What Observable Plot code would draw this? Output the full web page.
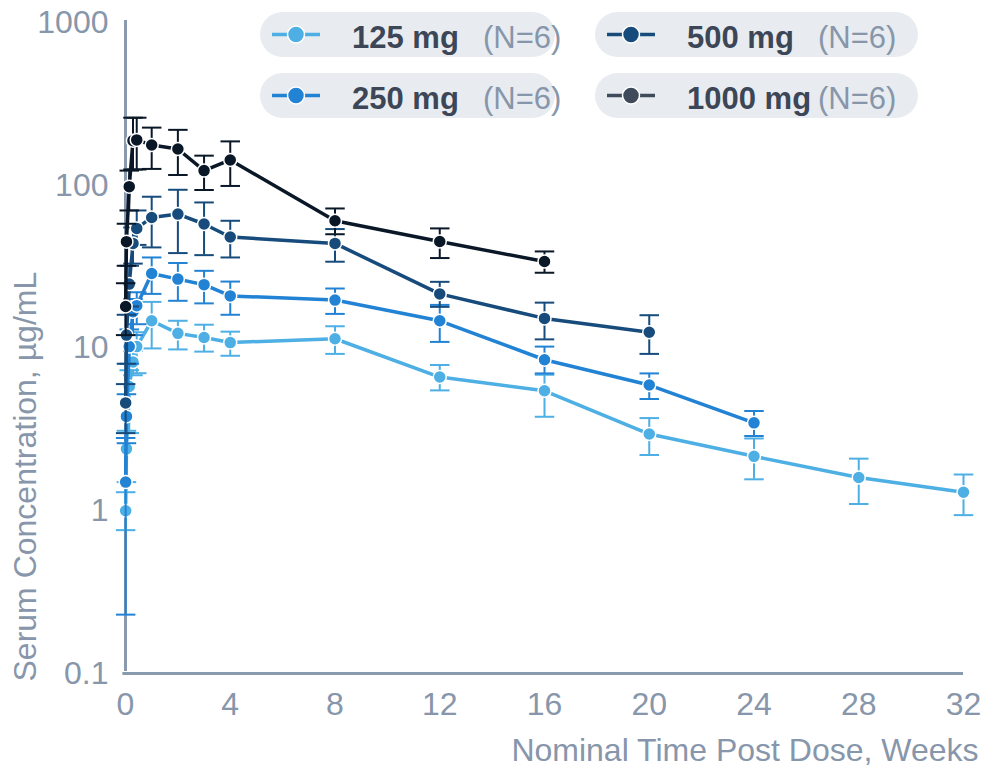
<!DOCTYPE html>
<html>
<head>
<meta charset="utf-8">
<script src="https://cdn.jsdelivr.net/npm/d3@7"></script>
<script src="https://cdn.jsdelivr.net/npm/@observablehq/plot@0.6"></script>
<style>
  body { margin: 0; background: #fff; font-family: "Liberation Sans", Arial, sans-serif; }
  #wrap { position: relative; width: 983px; height: 770px; }
  .pill { position: absolute; height: 45px; border-radius: 23px; background: #E8ECF0; }
  .pill .sym { position: absolute; left: 12px; top: 0; width: 48px; height: 45px; }
  .pill .name { position: absolute; left: 92px; top: 3px; line-height: 45px; font-size: 31px; font-weight: bold; color: #3C4657; white-space: nowrap; }
  .pill .n { position: absolute; left: 223px; top: 3px; line-height: 45px; font-size: 31px; color: #8796AA; white-space: nowrap; }
</style>
</head>
<body>
<div id="wrap"></div>
<script>
// ---- data ----
const doses = ["125 mg", "250 mg", "500 mg", "1000 mg"];
const nLabels = ["(N=6)", "(N=6)", "(N=6)", "(N=6)"];
const lineColors = ["#4DAFE4", "#2282D4", "#164B7C", "#0A1727"];
const legendColors = ["#4DAFE4", "#2282D4", "#164B7C", "#3F4A5A"];
const times = [0.006, 0.036, 0.143, 0.286, 0.429, 1, 2, 3, 4, 8, 12, 16, 20, 24, 28, 32];

const mean125 = [1.0, 2.4, 5.8, 8.2, 10.2, 14.7, 12.3, 11.6, 10.8, 11.4, 6.63, 5.46, 2.96, 2.16, 1.6, 1.3];
const lo125   = [0.76, 1.5, 3.0, 6.8, 7.0, 9.94, 9.8, 9.5, 8.96, 9.2, 5.49, 3.78, 2.2, 1.56, 1.1, 0.94];
const hi125   = [1.3, 3.1, 7.3, 9.6, 12.5, 19.2, 14.7, 13.9, 12.6, 13.6, 7.86, 6.85, 3.71, 2.78, 2.09, 1.67];

const mean250 = [1.5, 3.8, 10.2, 16.7, 18.2, 28.7, 26.5, 24.5, 20.9, 19.7, 14.7, 8.47, 5.92, 3.47];
const lo250   = [0.23, 2.6, 8.0, 12.0, 14.0, 21.5, 19.5, 18.8, 16.0, 16.2, 10.9, 6.98, 4.86, 2.88];
const hi250   = [2.8, 5.2, 13.0, 20.0, 22.0, 36.0, 33.3, 29.8, 25.6, 23.2, 18.4, 10.2, 6.98, 4.1];

const mean500 = [4.6, 12, 24.7, 43.9, 54.3, 63.4, 66.5, 57.8, 48.1, 43.9, 21.5, 15.2, 12.5];
const lo500   = [3.0, 8.0, 18.0, 33.0, 43.0, 41.5, 38.3, 37.2, 36.0, 33.9, 17.9, 11.3, 9.2];
const hi500   = [6.0, 16.0, 32.0, 55.0, 70.0, 85.0, 93.8, 78.4, 60.5, 53.8, 25.5, 19.0, 15.9];

const mean1000 = [18, 45, 98, 188, 190, 176.6, 167, 123, 143, 60.5, 45.1, 34];
const lo1000   = [12, 32, 70, 125, 125, 126, 115.6, 93.5, 99, 50, 35.7, 29];
const hi1000   = [25, 58, 123, 260, 260, 226, 219, 152, 186, 72, 54.3, 39.2];

const yTicks = [0.1, 1, 10, 100, 1000];
const xTicks = [0, 4, 8, 12, 16, 20, 24, 28, 32];
const xLabel = "Nominal Time Post Dose, Weeks";
const yLabel = "Serum Concentration, µg/mL";

// ---- build table ----
const series = [
  [mean125, lo125, hi125],
  [mean250, lo250, hi250],
  [mean500, lo500, hi500],
  [mean1000, lo1000, hi1000]
];
const rows = [];
series.forEach(([m, lo, hi], s) => {
  m.forEach((v, i) => rows.push({dose: doses[s], t: times[i], v, lo: lo[i], hi: hi[i]}));
});

const axisColor = "#8A9AAE";
const textColor = "#8796AA";
const capSymbol = { draw(ctx, size) { const w = Math.sqrt(size); ctx.moveTo(-w, 0); ctx.lineTo(w, 0); } };

const marks = [
  Plot.ruleX([0], {stroke: axisColor, strokeWidth: 3, y1: 0.1, y2: 1000, dy: -2}),
  Plot.ruleY([0.1], {stroke: axisColor, strokeWidth: 3, x1: -0.1, x2: 32})
];
doses.forEach((d, s) => {
  const data = rows.filter(r => r.dose === d);
  const c = lineColors[s];
  marks.push(
    Plot.ruleX(data, {x: "t", y1: "lo", y2: "hi", stroke: c, strokeWidth: 2}),
    Plot.dot(data, {x: "t", y: "lo", symbol: capSymbol, r: 5.5, stroke: c, strokeWidth: 2, fill: "none"}),
    Plot.dot(data, {x: "t", y: "hi", symbol: capSymbol, r: 5.5, stroke: c, strokeWidth: 2, fill: "none"}),
    Plot.line(data, {x: "t", y: "v", stroke: c, strokeWidth: 3.5}),
    Plot.dot(data, {x: "t", y: "v", r: 6.5, fill: c, stroke: "white", strokeWidth: 1.5})
  );
});
marks.push(
  Plot.axisY({ticks: yTicks, tickSize: 0, tickPadding: 17, tickFormat: d => String(d), label: null, fontSize: 32, color: textColor}),
  Plot.axisX({ticks: xTicks, tickSize: 0, tickPadding: 19, label: null, fontSize: 32, color: textColor}),
  Plot.text([xLabel], {frameAnchor: "bottom-right", textAnchor: "end", dx: 15, dy: 87, fontSize: 32, fill: textColor}),
  Plot.text([yLabel], {frameAnchor: "bottom-left", textAnchor: "start", rotate: -90, dx: -90, dy: 8, fontSize: 32, fill: textColor})
);

const chart = Plot.plot({
  width: 983,
  height: 770,
  marginLeft: 125,
  marginRight: 20,
  marginTop: 22,
  marginBottom: 97,
  style: {fontFamily: "'Liberation Sans', Arial, sans-serif", background: "white", overflow: "visible"},
  x: {domain: [0, 32]},
  y: {type: "log", domain: [0.1, 1000]},
  marks
});
const wrap = document.getElementById("wrap");
wrap.appendChild(chart);

// ---- legend (HTML overlay) ----
const pillPos = [[260, 12, 295], [260, 73, 295], [595, 12, 323], [595, 73, 323]];
doses.forEach((d, s) => {
  const [l, t, w] = pillPos[s];
  const p = document.createElement("div");
  p.className = "pill";
  p.style.left = l + "px"; p.style.top = t + "px"; p.style.width = w + "px";
  const c = legendColors[s];
  p.innerHTML = `<svg class="sym" viewBox="0 0 48 45"><line x1="0" x2="48" y1="22.5" y2="22.5" stroke="${c}" stroke-width="3.5"/><circle cx="24" cy="22.5" r="8.5" fill="${c}" stroke="white" stroke-width="1.5"/></svg><span class="name">${d}</span><span class="n">${nLabels[s]}</span>`;
  wrap.appendChild(p);
});
</script>
</body>
</html>
